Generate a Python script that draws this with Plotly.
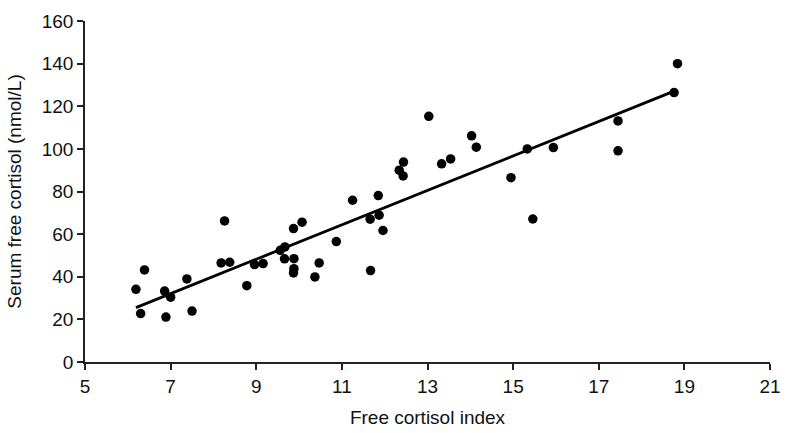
import plotly.graph_objects as go

# Free cortisol index (x) vs serum free cortisol, nmol/L (y)
fci = [6.19, 6.39, 6.30, 6.86, 7.00, 6.89, 7.38, 7.50, 8.18, 8.38, 8.26, 8.78,
       8.96, 9.16, 9.56, 9.67, 9.66, 9.87, 9.88, 9.88, 9.87, 10.07, 10.37, 10.47,
       10.87, 11.25, 11.66, 11.67, 11.85, 11.87, 11.96, 12.34, 12.44, 12.43, 13.03,
       13.33, 13.54, 14.03, 14.14, 14.95, 15.33, 15.46, 15.94, 17.45, 17.45, 18.76,
       18.84]
sfc = [34.1, 43.2, 22.7, 33.3, 30.4, 21.1, 39.0, 23.9, 46.5, 46.8, 66.2, 35.8,
       45.7, 46.2, 52.4, 54.0, 48.4, 62.6, 48.5, 43.8, 41.8, 65.6, 39.9, 46.5,
       56.5, 75.9, 67.0, 42.9, 78.1, 68.9, 61.7, 90.0, 93.8, 87.3, 115.3,
       93.0, 95.3, 106.1, 100.8, 86.5, 100.0, 67.1, 100.6, 113.1, 99.1, 126.4,
       140.0]

# Regression line end points
fit_x = [6.19, 18.76]
fit_y = [25.5, 127.1]

x_ticks = [5, 7, 9, 11, 13, 15, 17, 19, 21]
y_ticks = [0, 20, 40, 60, 80, 100, 120, 140, 160]

FONT = "Liberation Sans"

fig = go.Figure()
fig.add_trace(go.Scatter(x=fit_x, y=fit_y, mode="lines",
                         line=dict(color="black", width=2.8), showlegend=False))
fig.add_trace(go.Scatter(x=fci, y=sfc, mode="markers",
                         marker=dict(color="black", size=9.5), showlegend=False))

fig.update_layout(
    width=790, height=433,
    margin=dict(l=85, r=20, t=21, b=71, autoexpand=False),
    plot_bgcolor="white", paper_bgcolor="white",
    font=dict(family=FONT, color="#111111", size=19),
)
fig.update_xaxes(range=[5, 21], tickvals=x_ticks, ticktext=[str(v) for v in x_ticks],
                 showgrid=False, zeroline=False, showline=True, linecolor="#222222",
                 linewidth=1.6, ticks="outside", ticklen=6, tickwidth=1.6,
                 tickcolor="#222222", tickfont=dict(size=19), automargin=False,
                 title=dict(text="Free cortisol index", font=dict(size=19)))
fig.update_yaxes(range=[0, 160], tickvals=y_ticks, ticktext=[str(v) for v in y_ticks],
                 showgrid=False, zeroline=False, showline=True, linecolor="#222222",
                 linewidth=1.6, ticks="outside", ticklen=6, tickwidth=1.6,
                 tickcolor="#222222", tickfont=dict(size=19), automargin=False,
                 title=dict(text="Serum free cortisol (nmol/L)", font=dict(size=19)))

fig.write_html("out.html", config={"displayModeBar": False},
               post_script="document.body.style.margin='0px';")
